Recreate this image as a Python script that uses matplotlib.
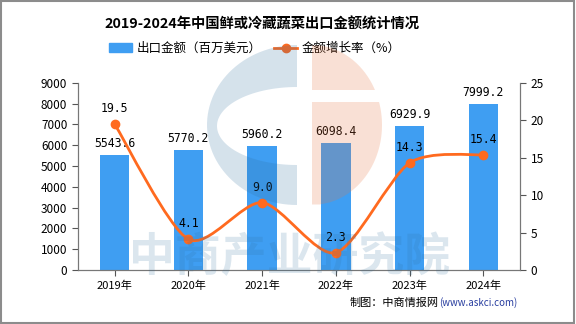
import matplotlib
matplotlib.use('Agg')
import numpy as np
import matplotlib.pyplot as plt
from matplotlib.path import Path
from matplotlib.patches import PathPatch, Polygon, Rectangle, Patch
from matplotlib.lines import Line2D

plt.rcParams['font.family'] = ['Noto Sans CJK SC', 'DejaVu Sans']

# data
years = ['2019年', '2020年', '2021年', '2022年', '2023年', '2024年']
export_value = [5543.6, 5770.2, 5960.2, 6098.4, 6929.9, 7999.2]
growth_rate = [19.5, 4.1, 9.0, 2.3, 14.3, 15.4]

bar_color = '#3f9ef2'
line_color = '#ff6a1f'

fig = plt.figure(figsize=(5.76, 3.24), dpi=100)
fig.patches.append(Rectangle((0.002, 0.003), 0.995, 0.994, transform=fig.transFigure,
                             fill=False, edgecolor='#8c8c8c', linewidth=1.5))

ax = fig.add_axes([0.135, 0.167, 0.768, 0.577])
ax2 = ax.twinx()

x = list(range(len(years)))
ax.bar(x, export_value, width=0.4, color=bar_color, zorder=2)
for xi, v in zip(x, export_value):
    ax.text(xi, v + 250, f'{v:.1f}', ha='center', va='bottom', fontsize=8.3,
            family=['DejaVu Sans Mono'], zorder=5)

ax.set_xlim(-0.5, len(years) - 0.5)
ax.set_ylim(0, 9000)
ax.set_yticks(range(0, 9001, 1000))
ax.set_xticks(x)
ax.set_xticklabels(years, fontsize=8)
ax.tick_params(axis='y', labelsize=8.5, length=4, color='#555555')
ax.tick_params(axis='x', length=4, color='#555555')

ax2.set_ylim(0, 25)
ax2.set_yticks(range(0, 26, 5))
ax2.tick_params(axis='y', labelsize=8.5, length=4, color='#555555')

for a in (ax, ax2):
    a.spines['top'].set_visible(False)
    for s in ('left', 'right', 'bottom'):
        a.spines[s].set_color('#777777')

# smooth curve through growth points (cubic Bezier segments)
pts = list(zip(x, growth_rate))
verts = [pts[0]]
codes = [Path.MOVETO]
t = 0.4 / 3
for i in range(len(pts) - 1):
    p0 = pts[i - 1] if i > 0 else pts[i]
    p1 = pts[i]
    p2 = pts[i + 1]
    p3 = pts[i + 2] if i + 2 < len(pts) else pts[i + 1]
    c1 = (p1[0] + (p2[0] - p0[0]) * t, p1[1] + (p2[1] - p0[1]) * t)
    c2 = (p2[0] - (p3[0] - p1[0]) * t, p2[1] - (p3[1] - p1[1]) * t)
    verts += [c1, c2, p2]
    codes += [Path.CURVE4] * 3
ax2.add_patch(PathPatch(Path(verts, codes), fill=False, edgecolor=line_color,
                        linewidth=2, zorder=3))
ax2.plot(x, growth_rate, 'o', color=line_color, markersize=6, zorder=4)
for xi, v in zip(x, growth_rate):
    ax2.text(xi, v + 1.2, f'{v:.1f}', ha='center', va='bottom', fontsize=8.3,
             family=['DejaVu Sans Mono'], zorder=5)

# watermark overlay, drawn in pixel coordinates
wm = fig.add_axes([0, 0, 1, 1], zorder=10)
wm.set_xlim(0, 576)
wm.set_ylim(324, 0)
wm.axis('off')
wm.patch.set_visible(False)
wm_blue = '#2f6f9f'
wm_orange = '#e87640'

# blue "C": outer half ellipse minus inner half ellipse
th = np.linspace(np.pi / 2, 3 * np.pi / 2, 60)
outer = np.column_stack([297 + 90 * np.cos(th), 125 - 80 * np.sin(th)])
inner = np.column_stack([297 + 80 * np.cos(th[::-1]), 126 - 39 * np.sin(th[::-1])])
wm.add_patch(Polygon(np.vstack([outer, inner]), closed=True, color=wm_blue,
                     alpha=0.2, lw=0))

# orange right half ellipse with a horizontal gap
for y0, y1 in ((45.5, 90), (102, 204.5)):
    ys = np.linspace(y0, y1, 50)
    xs = 312 + 70 * np.sqrt(np.clip(1 - ((ys - 125) / 80) ** 2, 0, 1))
    poly = np.vstack([np.column_stack([xs, ys]), [[312, y1], [312, y0]]])
    wm.add_patch(Polygon(poly, closed=True, color=wm_orange, alpha=0.22, lw=0))

wm.text(290, 258, '中商产业研究院', ha='center', va='center', fontsize=33,
        fontweight='bold', color=wm_blue, alpha=0.17)

fig.text(0.455, 0.925, '2019-2024年中国鲜或冷藏蔬菜出口金额统计情况', ha='center',
         va='center', fontsize=10.3, fontweight='bold')

handles = [Patch(color=bar_color, label='出口金额（百万美元）'),
           Line2D([0], [0], color=line_color, linewidth=2, marker='o', markersize=6,
                  label='金额增长率（%）')]
fig.legend(handles=handles, loc='center', bbox_to_anchor=(0.443, 0.85), ncol=2,
           frameon=False, fontsize=9, handlelength=1.8, handletextpad=0.4,
           columnspacing=1.0)

fig.text(0.762, 0.065, '制图：中商情报网', ha='right', va='center', fontsize=8)
fig.text(0.762, 0.065, '(www.askci.com)', ha='left', va='center', fontsize=7,
         color='#2a3fa0')

fig.savefig('out.png', dpi=100)
